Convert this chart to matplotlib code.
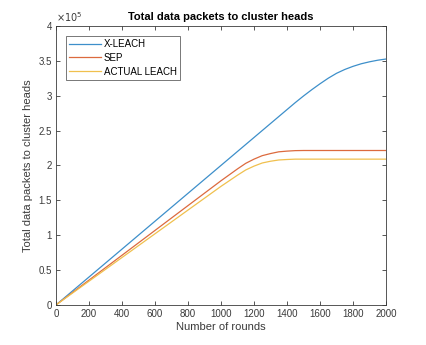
import matplotlib
matplotlib.use('Agg')
import matplotlib.pyplot as plt
from matplotlib.ticker import FuncFormatter, MultipleLocator

# rounds and cumulative packets to cluster heads
rounds = [0, 200, 400, 600, 800, 1000, 1100, 1150, 1200, 1250, 1300, 1350, 1400, 1450,
          1500, 1550, 1600, 1650, 1700, 1750, 1800, 1850, 1900, 1950, 2000]
x_leach = [0, 0.40e5, 0.80e5, 1.20e5, 1.60e5, 2.00e5, 2.20e5, 2.30e5, 2.40e5, 2.50e5, 2.60e5,
           2.70e5, 2.80e5, 2.90e5, 2.995e5, 3.085e5, 3.17e5, 3.25e5, 3.32e5, 3.375e5, 3.42e5,
           3.457e5, 3.485e5, 3.508e5, 3.525e5]
sep = [0, 0.356e5, 0.712e5, 1.068e5, 1.424e5, 1.78e5, 1.95e5, 2.03e5, 2.09e5, 2.14e5, 2.17e5,
       2.195e5, 2.205e5, 2.212e5, 2.214e5, 2.214e5, 2.214e5, 2.214e5, 2.214e5, 2.214e5,
       2.214e5, 2.214e5, 2.214e5, 2.214e5, 2.214e5]
actual_leach = [0, 0.34e5, 0.68e5, 1.02e5, 1.36e5, 1.70e5, 1.86e5, 1.935e5, 1.99e5, 2.035e5,
                2.06e5, 2.078e5, 2.085e5, 2.09e5, 2.09e5, 2.09e5, 2.09e5, 2.09e5, 2.09e5,
                2.09e5, 2.09e5, 2.09e5, 2.09e5, 2.09e5, 2.09e5]

plt.rcParams['font.family'] = ['Liberation Sans', 'DejaVu Sans']

fig = plt.figure(figsize=(4.27, 3.45), dpi=100)
ax = fig.add_axes([0.131, 0.116, 0.773, 0.809])

ax.plot(rounds, x_leach, color='#3d8fca', lw=0.9, label='X-LEACH')
ax.plot(rounds, sep, color='#dc6a3e', lw=0.9, label='SEP')
ax.plot(rounds, actual_leach, color='#f0c04e', lw=0.9, label='ACTUAL LEACH')

ax.set_xlim(0, 2000)
ax.set_ylim(0, 4e5)
ax.xaxis.set_major_locator(MultipleLocator(200))
ax.yaxis.set_major_locator(MultipleLocator(0.5e5))
ax.yaxis.set_major_formatter(FuncFormatter(lambda v, p: f'{v / 1e5:g}'))
ax.tick_params(direction='in', top=True, right=True, length=3, width=0.6,
               labelsize=7, colors='#3a3a3a', pad=3)
for s in ax.spines.values():
    s.set_color('#3a3a3a')
    s.set_linewidth(0.6)

ax.text(0, 1.005, r'$\times10^5$', transform=ax.transAxes, fontsize=7,
        color='#3a3a3a', ha='left', va='bottom')
ax.set_title('Total data packets to cluster heads', fontsize=8, fontweight='bold', pad=4)
ax.set_xlabel('Number of rounds', fontsize=8, color='#3a3a3a', labelpad=2)
ax.set_ylabel('Total data packets to cluster heads', fontsize=8, color='#3a3a3a', labelpad=4)

leg = ax.legend(loc='upper left', fontsize=7, frameon=True, fancybox=False,
                edgecolor='#3a3a3a', handlelength=3.3, handletextpad=0.3,
                borderpad=0.35, labelspacing=0.4, borderaxespad=1.0)
leg.get_frame().set_linewidth(0.6)

fig.savefig('out.png', dpi=100)
